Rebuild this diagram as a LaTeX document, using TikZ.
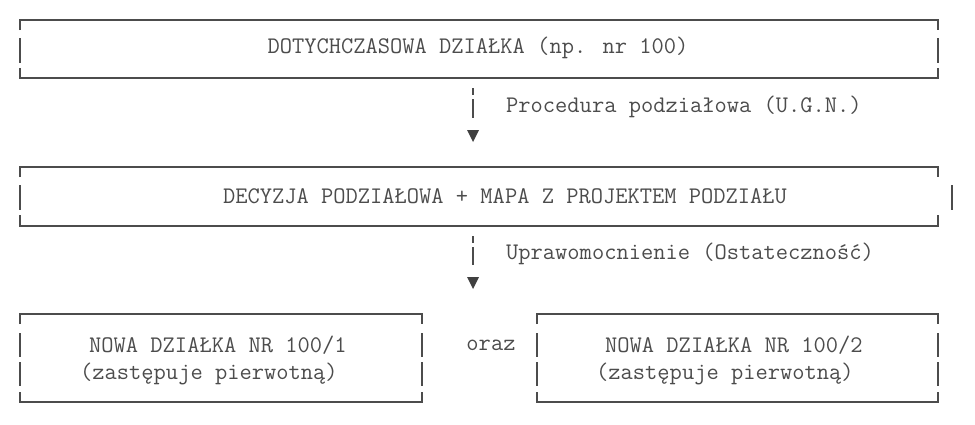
\documentclass[tikz,border=0pt]{standalone}
\begin{document}
\begin{tikzpicture}[x=1pt,y=-1pt,
 ln/.style={draw=black!70,line width=1.3pt},
 tx/.style={font=\ttfamily\fontsize{23.8}{25}\selectfont,text=black!70,inner sep=0pt},
 tri/.style={fill=black!75,draw=none}]
\useasboundingbox (0,0) rectangle (975,424);
% box 1
\draw[ln] (20,30)--(20,20)--(938,20)--(938,30);
\draw[ln] (20,38)--(20,63) (938,38)--(938,63);
\draw[ln] (20,68)--(20,78)--(938,78)--(938,68);
\node[tx] (b1) at (478,48) {DOTYCHCZASOWA DZIAŁKA (np. nr 100)};
% arrow 1
\draw[ln] (473,88)--(473,95) (473,99)--(473,118);
\fill[tri] (467,130)--(479,130)--(473,142)--cycle;
\node[tx,anchor=west] (l1) at (506,107) {Procedura podziałowa (U.G.N.)};
% box 2
\draw[ln] (20,177)--(20,167)--(938,167)--(938,177);
\draw[ln] (20,185)--(20,210) (952,185)--(952,210);
\draw[ln] (20,215)--(20,226)--(938,226)--(938,215);
\node[tx] (b2) at (505,196) {DECYZJA PODZIAŁOWA + MAPA Z PROJEKTEM PODZIAŁU};
% arrow 2
\draw[ln] (473,236)--(473,243) (473,247)--(473,265);
\fill[tri] (467,277)--(479,277)--(473,289)--cycle;
\node[tx,anchor=west] (l2) at (506,254) {Uprawomocnienie (Ostateczność)};
% box 3
\draw[ln] (20,324)--(20,314)--(422,314)--(422,324);
\draw[ln] (20,333)--(20,357) (422,333)--(422,357);
\draw[ln] (20,362)--(20,386) (422,362)--(422,386);
\draw[ln] (20,392)--(20,402)--(422,402)--(422,392);
\node[tx,anchor=west] (n1) at (89,345) {NOWA DZIAŁKA NR 100/1};
\node[tx,anchor=west] (n1b) at (80,374) {(zastępuje pierwotną)};
% box 4
\draw[ln] (537,324)--(537,314)--(938,314)--(938,324);
\draw[ln] (537,333)--(537,357) (938,333)--(938,357);
\draw[ln] (537,362)--(537,386) (938,362)--(938,386);
\draw[ln] (537,392)--(537,402)--(938,402)--(938,392);
\node[tx,anchor=west] (n2) at (605,345) {NOWA DZIAŁKA NR 100/2};
\node[tx,anchor=west] (n2b) at (596,374) {(zastępuje pierwotną)};
\node[tx] (oraz) at (491,345) {oraz};
\end{tikzpicture}
\end{document}
